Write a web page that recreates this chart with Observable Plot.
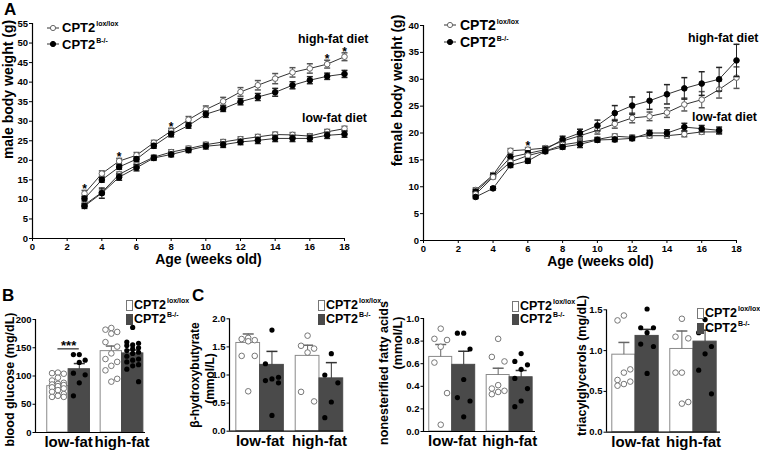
<!DOCTYPE html>
<html>
<head>
<meta charset="utf-8">
<script src="https://cdn.jsdelivr.net/npm/d3@7"></script>
<script src="https://cdn.jsdelivr.net/npm/@observablehq/plot@0.6"></script>
<style>
  body { margin: 0; background: #fff; }
  #root { position: relative; width: 760px; height: 452px; font-family: "Liberation Sans", Arial, sans-serif; font-weight: bold; color: #000; overflow: hidden; }
  .lbl { position: absolute; white-space: nowrap; line-height: 1; }
  .sup { font-size: 7px; position: relative; top: -6px; margin-left: 1px; }
  .sw { position: absolute; box-sizing: border-box; }
</style>
</head>
<body>
<div id="root"></div>
<script>
// ---------------- DATA ----------------
const weeks = [3, 4, 5, 6, 7, 8, 9, 10, 11, 12, 13, 14, 15, 16, 17, 18];
const weekTicks = [0, 2, 4, 6, 8, 10, 12, 14, 16, 18];

// male body weight (g)
const maleHfLox    = [11.5, 16.6, 19.8, 21.3, 24.5, 27.5, 30.4, 33.0, 35.1, 37.5, 39.2, 40.9, 42.5, 43.5, 44.6, 46.5];
const maleHfLoxErr = [0.8, 0.7, 0.7, 0.7, 0.6, 0.7, 0.8, 0.9, 1.0, 1.1, 1.2, 1.3, 1.2, 1.2, 1.0, 1.0];
const maleHfKo     = [10.2, 15.0, 18.3, 20.3, 23.7, 26.7, 28.9, 31.8, 33.2, 35.0, 36.2, 37.4, 39.2, 40.5, 41.5, 42.1];
const maleHfKoErr  = [0.6, 0.6, 0.6, 0.6, 0.6, 0.7, 0.7, 0.8, 0.7, 0.8, 0.9, 1.0, 0.9, 0.9, 0.8, 0.9];
const maleLfLox    = [8.6, 11.8, 16.4, 18.7, 20.8, 22.1, 23.0, 24.0, 24.7, 25.4, 26.0, 26.6, 26.5, 26.2, 27.3, 28.1];
const maleLfLoxErr = [0.5, 0.6, 0.6, 0.6, 0.5, 0.6, 0.6, 0.6, 0.6, 0.6, 0.6, 0.6, 0.6, 0.6, 0.6, 0.6];
const maleLfKo     = [8.3, 11.6, 15.7, 18.1, 20.6, 21.5, 22.6, 23.6, 24.0, 24.7, 25.1, 25.6, 25.6, 25.6, 26.4, 26.7];
const maleLfKoErr  = [0.6, 1.3, 0.8, 0.8, 0.6, 0.6, 0.6, 0.7, 0.7, 0.7, 0.8, 0.8, 0.8, 0.8, 0.8, 0.8];
const maleStarWeeks = [3, 5, 8, 17, 18];
const maleYTicks = [0, 5, 10, 15, 20, 25, 30, 35, 40, 45, 50, 55];

// female body weight (g)
const femHfLox    = [9.4, 12.2, 16.7, 16.9, 17.2, 18.5, 19.5, 20.5, 21.7, 22.8, 23.1, 23.8, 25.3, 26.2, 28.1, 30.3];
const femHfLoxErr = [0.4, 0.4, 0.4, 0.4, 0.4, 0.5, 0.6, 0.7, 0.8, 0.9, 0.8, 0.9, 1.2, 1.5, 1.6, 2.0];
const femHfKo     = [9.1, 12.0, 15.5, 16.2, 16.9, 18.8, 20.0, 21.4, 23.7, 25.1, 26.0, 27.2, 28.3, 29.2, 30.0, 33.5];
const femHfKoErr  = [0.4, 0.4, 0.5, 0.5, 0.5, 0.6, 0.7, 1.0, 1.4, 1.6, 1.6, 1.8, 2.0, 2.2, 2.2, 3.0];
const femLfLox    = [8.6, 11.8, 14.6, 15.8, 16.6, 17.8, 18.3, 18.8, 19.4, 19.2, 19.5, 19.5, 19.8, 20.2, 20.2, null];
const femLfLoxErr = [0.3, 0.3, 0.3, 0.3, 0.3, 0.4, 0.5, 0.4, 0.4, 0.4, 0.4, 0.4, 0.5, 0.4, 0.4, null];
const femLfKo     = [8.1, 9.7, 14.0, 14.8, 16.6, 17.4, 17.9, 18.7, 18.8, 19.0, 20.0, 20.0, 21.1, 20.8, 20.5, null];
const femLfKoErr  = [0.3, 0.3, 0.4, 0.4, 0.4, 0.4, 0.6, 0.4, 0.4, 0.4, 0.5, 0.6, 0.7, 0.6, 0.6, null];
const femStarWeeks = [6];
const femYTicks = [0, 5, 10, 15, 20, 25, 30, 35, 40];

// bar panels: order [low-fat lox, low-fat B-/-, high-fat lox, high-fat B-/-]
const diets = ["low-fat", "high-fat"];

const glucoseMean = [82, 112, 144, 140];
const glucoseErr  = [5, 10, 9, 6];
const glucosePts = [
  [106, 105, 104, 97, 92, 88, 86, 85, 84, 82, 80, 78, 75, 72, 68, 65, 63, 63],
  [138, 138, 128, 124, 105, 102, 88, 65],
  [185, 182, 178, 175, 160, 152, 140, 130, 125, 118, 110, 95, 90],
  [186, 160, 158, 155, 154, 150, 148, 145, 142, 140, 135, 130, 128, 125, 120, 118, 112, 90]
];
const glucoseTicks = [0, 50, 100, 150, 200];

const bhbMean = [1.57, 1.18, 1.34, 0.94];
const bhbErr  = [0.16, 0.24, 0.19, 0.28];
const bhbPts = [
  [1.66, 1.64, 1.62, 1.60, 1.34, 1.34, 0.71],
  [1.80, 1.20, 0.96, 0.93, 0.90, 0.86, 0.28],
  [1.70, 1.52, 1.47, 1.40, 0.70, 0.53],
  [1.38, 1.00, 0.86, 0.52, 0.24]
];
const bhbTicks = [0, 0.5, 1.0, 1.5, 2.0];

const nefaMean = [0.66, 0.59, 0.50, 0.48];
const nefaErr  = [0.11, 0.12, 0.06, 0.06];
const nefaPts = [
  [0.91, 0.82, 0.81, 0.75, 0.61, 0.34, 0.06],
  [0.87, 0.87, 0.73, 0.46, 0.30, 0.27, 0.13],
  [0.82, 0.66, 0.62, 0.41, 0.38, 0.36, 0.35, 0.33],
  [0.69, 0.62, 0.59, 0.55, 0.47, 0.38, 0.27, 0.22]
];
const nefaTicks = [0, 0.2, 0.4, 0.6, 0.8, 1.0];

const tagMean = [0.95, 1.18, 1.02, 1.11];
const tagErr  = [0.15, 0.08, 0.22, 0.14];
const tagPts = [
  [1.43, 1.37, 0.77, 0.73, 0.64, 0.62, 0.59, 0.57],
  [1.51, 1.28, 1.28, 1.22, 1.08, 1.05, 0.72],
  [1.39, 1.17, 1.15, 0.73, 0.73, 0.37, 0.35],
  [1.38, 1.22, 1.05, 0.96, 0.76, 0.47]
];
const tagTicks = [0, 0.5, 1.0, 1.5];

// ---------------- HELPERS ----------------
const FONT = "Liberation Sans, Arial, Helvetica, sans-serif";
const TICK = 9.5;
const root = document.getElementById("root");
const cap = { draw(ctx, size) { const w = Math.sqrt(size / Math.PI); ctx.moveTo(-w, 0); ctx.lineTo(w, 0); } };

function place(el, left, top) {
  el.style.position = "absolute";
  el.style.left = left + "px";
  el.style.top = top + "px";
  el.style.overflow = "visible";
  el.style.background = "none";
  el.style.maxWidth = "none";
  root.appendChild(el);
}
function addText(html, left, top, size, extra = "") {
  const d = document.createElement("div");
  d.className = "lbl";
  d.style.cssText += `left:${left}px;top:${top}px;font-size:${size}px;${extra}`;
  d.innerHTML = html;
  root.appendChild(d);
  return d;
}
function rows(vals, errs) {
  return weeks.map((w, i) => ({ week: w, v: vals[i], e: errs[i] })).filter(d => d.v != null);
}
function yTitle(text, dx, dy, size) {
  return Plot.text([text], { text: d => d, frameAnchor: "left", textAnchor: "middle", lineAnchor: "middle",
    rotate: -90, dx, dy, fontSize: size, fontWeight: "bold", fill: "#000" });
}

function linePanel(o) {
  const marks = [
    Plot.ruleX([0], { stroke: "#000", strokeWidth: 1.2 }),
    Plot.ruleY([0], { stroke: "#000", strokeWidth: 1.2 }),
    Plot.axisX({ ticks: weekTicks, label: null, tickSize: 3, tickPadding: 2, fontSize: TICK, fontWeight: "bold", tickFormat: d => d }),
    Plot.axisY({ ticks: o.yTicks, label: null, tickSize: 3, tickPadding: 1.5, fontSize: TICK, fontWeight: "bold", tickFormat: d => d })
  ];
  for (const s of o.series) {
    const r = rows(s.v, s.e);
    const col = s.open ? "#555" : "#222";
    marks.push(Plot.line(r, { x: "week", y: "v", stroke: "#333", strokeWidth: 1 }));
    marks.push(Plot.ruleX(r, { x: "week", y1: d => d.v - d.e, y2: d => d.v + d.e, stroke: col, strokeWidth: 1 }));
    marks.push(Plot.dot(r, { x: "week", y: d => d.v + d.e, symbol: cap, r: 3, stroke: col, fill: "none" }));
    marks.push(Plot.dot(r, { x: "week", y: d => d.v - d.e, symbol: cap, r: 3, stroke: col, fill: "none" }));
    marks.push(Plot.dot(r, { x: "week", y: "v", r: 2.8, fill: s.open ? "#fff" : "#000", stroke: s.open ? "#666" : "#000", strokeWidth: 1 }));
  }
  const ref = rows(o.starSeries.v, o.starSeries.e).filter(d => o.starWeeks.includes(d.week));
  marks.push(Plot.text(ref, { x: "week", y: d => d.v + d.e, text: () => "*", dy: -1, fontSize: 12, fontWeight: "bold", fill: "#000" }));
  marks.push(yTitle(o.ytitle, o.ytDx, o.ytDy, 14));
  marks.push(Plot.text(["Age (weeks old)"], { text: d => d, frameAnchor: "bottom", textAnchor: "middle", lineAnchor: "middle",
    dx: o.xtDx, dy: o.xtDy, fontSize: 14, fontWeight: "bold", fill: "#000" }));
  return Plot.plot({
    width: o.width, height: o.height,
    marginLeft: o.ml, marginRight: o.mr, marginTop: o.mt, marginBottom: o.mb,
    x: { domain: [0, 18], label: null },
    y: { domain: [0, o.yMax], label: null },
    style: { fontFamily: FONT, fontWeight: "bold", fontSize: "10px", overflow: "visible", background: "none" },
    marks
  });
}

function barPanel(o) {
  const barW = 0.4;
  const bars = [];
  const pts = [];
  diets.forEach((diet, i) => {
    [0, 1].forEach(j => {
      const k = i * 2 + j;
      const c = (i + 1) + (j === 0 ? -barW / 2 : barW / 2);
      bars.push({ diet, ko: j === 1, mean: o.mean[k], err: o.err[k], c });
      const sorted = o.pts[k].slice().sort((a, b) => b - a);
      sorted.forEach((v, n) => pts.push({ v, ko: j === 1, x: c + [0, -1, 1][n % 3] * 0.11 }));
    });
  });
  const marks = [
    Plot.rect(bars, { x1: d => d.c - barW / 2, x2: d => d.c + barW / 2, y1: 0, y2: "mean",
      fill: d => d.ko ? "#4a4a4a" : "#fff", stroke: d => d.ko ? "#4a4a4a" : "#8a8a8a", strokeWidth: 1 }),
    Plot.ruleX(bars, { x: "c", y1: "mean", y2: d => d.mean + d.err, stroke: d => d.ko ? "#333" : "#666" }),
    Plot.dot(bars, { x: "c", y: d => d.mean + d.err, symbol: cap, r: 5.5, stroke: d => d.ko ? "#333" : "#666", fill: "none" }),
    Plot.dot(pts.filter(d => !d.ko), { x: "x", y: "v", r: 2.8, fill: "#fff", stroke: "#777", strokeWidth: 1 }),
    Plot.dot(pts.filter(d => d.ko), { x: "x", y: "v", r: 2.6, fill: "#000" }),
    Plot.ruleX([o.xDomain[0]], { stroke: "#000", strokeWidth: 1.2 }),
    Plot.ruleY([0], { stroke: "#000", strokeWidth: 1.2 }),
    Plot.axisY({ ticks: o.ticks, label: null, tickSize: 2.5, tickPadding: 1.5, fontSize: TICK, fontWeight: "bold", tickFormat: o.fmt }),
    Plot.axisX({ ticks: [1, 2], label: null, tickSize: 0, tickPadding: 4, fontSize: 15, fontWeight: "bold", tickFormat: d => diets[d - 1] })
  ];
  for (const t of o.titles) marks.push(yTitle(t.text, t.dx, t.dy, t.size || 12.5));
  if (o.sig) {
    const lf = o.pts[0].concat(o.pts[1]);
    const top = Math.max(...lf) + 10;
    const sig = [{ x1: 1 - barW / 2, x2: 1 + barW / 2, y: top, label: o.sig }];
    marks.push(Plot.ruleY(sig, { x1: "x1", x2: "x2", y: "y", stroke: "#000", strokeWidth: 1 }));
    marks.push(Plot.text(sig, { x: d => (d.x1 + d.x2) / 2, y: "y", text: "label", dy: -3, fontSize: 13, fontWeight: "bold", fill: "#000" }));
  }
  return Plot.plot({
    width: o.width, height: o.height,
    marginLeft: o.ml, marginRight: o.mr, marginTop: o.mt, marginBottom: o.mb,
    x: { domain: o.xDomain, label: null },
    y: { domain: [0, o.ticks[o.ticks.length - 1]], label: null },
    style: { fontFamily: FONT, fontWeight: "bold", fontSize: "10px", overflow: "visible", background: "none" },
    marks
  });
}

// ---------------- PANEL A ----------------
place(linePanel({
  width: 370, height: 280, ml: 32, mr: 26, mt: 23, mb: 42,
  yMax: 55, yTicks: maleYTicks,
  series: [
    { v: maleHfLox, e: maleHfLoxErr, open: true },
    { v: maleHfKo, e: maleHfKoErr, open: false },
    { v: maleLfLox, e: maleLfLoxErr, open: true },
    { v: maleLfKo, e: maleLfKoErr, open: false }
  ],
  starSeries: { v: maleHfLox, e: maleHfLoxErr }, starWeeks: maleStarWeeks,
  ytitle: "male body weight (g)", ytDx: -23.5, ytDy: -41.5, xtDx: 20, xtDy: 21
}), 0, 0);

place(linePanel({
  width: 390, height: 280, ml: 53, mr: 24, mt: 25, mb: 40,
  yMax: 40, yTicks: femYTicks,
  series: [
    { v: femHfLox, e: femHfLoxErr, open: true },
    { v: femHfKo, e: femHfKoErr, open: false },
    { v: femLfLox, e: femLfLoxErr, open: true },
    { v: femLfKo, e: femLfKoErr, open: false }
  ],
  starSeries: { v: femHfLox, e: femHfLoxErr }, starWeeks: femStarWeeks,
  ytitle: "female body weight (g)", ytDx: -25.5, ytDy: -42.5, xtDx: 20.5, xtDy: 21.5
}), 370, 0);

// ---------------- PANELS B, C ----------------
const fmt1 = d3.format(".1f");
place(barPanel({
  width: 195, height: 167, ml: 35, mr: 50, mt: 34, mb: 20,
  xDomain: [0.38, 2.44], mean: glucoseMean, err: glucoseErr, pts: glucosePts, ticks: glucoseTicks, fmt: d => d,
  titles: [{ text: "blood glucose (mg/dL)", dx: -26, dy: 3.5 }],
  sig: "***"
}), 0, 285);

place(barPanel({
  width: 190, height: 167, ml: 44, mr: 31.7, mt: 33.3, mb: 21.3,
  xDomain: [0.485, 2.41], mean: bhbMean, err: bhbErr, pts: bhbPts, ticks: bhbTicks, fmt: fmt1,
  titles: [{ text: "β-hydroxybutyrate", dx: -34, dy: 0, size: 12 }, { text: "(mmol/L)", dx: -19, dy: 3.5, size: 12 }]
}), 185, 285);

place(barPanel({
  width: 195, height: 167, ml: 48, mr: 35, mt: 33, mb: 21,
  xDomain: [0.5, 2.45], mean: nefaMean, err: nefaErr, pts: nefaPts, ticks: nefaTicks, fmt: fmt1,
  titles: [{ text: "nonesterified fatty acids", dx: -39.5, dy: -2 }, { text: "(mmol/L)", dx: -25.5, dy: -32 }]
}), 375, 285);

place(barPanel({
  width: 190, height: 167, ml: 36, mr: 40, mt: 24.3, mb: 20.3,
  xDomain: [0.5, 2.466], mean: tagMean, err: tagErr, pts: tagPts, ticks: tagTicks, fmt: fmt1,
  titles: [{ text: "triacylglycerols (mg/dL)", dx: -24.5, dy: -5.5 }]
}), 570, 285);

// ---------------- LABELS / LEGENDS ----------------
addText("A", 4, 1, 17);
addText("B", 2, 287, 17);
addText("C", 192, 287, 17);

addText("high-fat diet", 298, 33, 12.3);
addText("low-fat diet", 302, 112, 12.3);
addText("high-fat diet", 688, 32, 12.3);
addText("low-fat diet", 692, 111, 12.3);

function lineLegend(mx, y1, y2, tx, size) {
  [[y1, true], [y2, false]].forEach(([y, open]) => {
    const ns = "http://www.w3.org/2000/svg";
    const s = document.createElementNS(ns, "svg");
    s.setAttribute("width", 14); s.setAttribute("height", 10);
    s.innerHTML = `<line x1="1" y1="5" x2="13" y2="5" stroke="#333" stroke-width="1"/>` +
      `<circle cx="7" cy="5" r="2.6" fill="${open ? "#fff" : "#000"}" stroke="${open ? "#666" : "#000"}"/>`;
    s.style.position = "absolute"; s.style.left = (mx - 7) + "px"; s.style.top = (y - 5) + "px";
    root.appendChild(s);
    addText(open ? 'CPT2<span class="sup">lox/lox</span>' : 'CPT2<span class="sup">B-/-</span>', tx, y - size / 2, size);
  });
}
lineLegend(53, 27.7, 44.3, 62, 13);
lineLegend(450, 25, 42.3, 460, 14);

function barLegend(rx, y1, y2, tx) {
  [[y1, true], [y2, false]].forEach(([y, open]) => {
    const d = document.createElement("div");
    d.className = "sw";
    d.style.cssText += `left:${rx}px;top:${y - 5.5}px;width:7px;height:11px;` +
      (open ? "background:#fff;border:1px solid #777;" : "background:#4a4a4a;");
    root.appendChild(d);
    addText(open ? 'CPT2<span class="sup">lox/lox</span>' : 'CPT2<span class="sup">B-/-</span>', tx, y - 6.3, 12.5);
  });
}
barLegend(126, 305.5, 319, 134);
barLegend(318, 305.5, 319, 326);
barLegend(512, 306, 319.5, 520);
barLegend(697, 313, 328, 705);
</script>
</body>
</html>
